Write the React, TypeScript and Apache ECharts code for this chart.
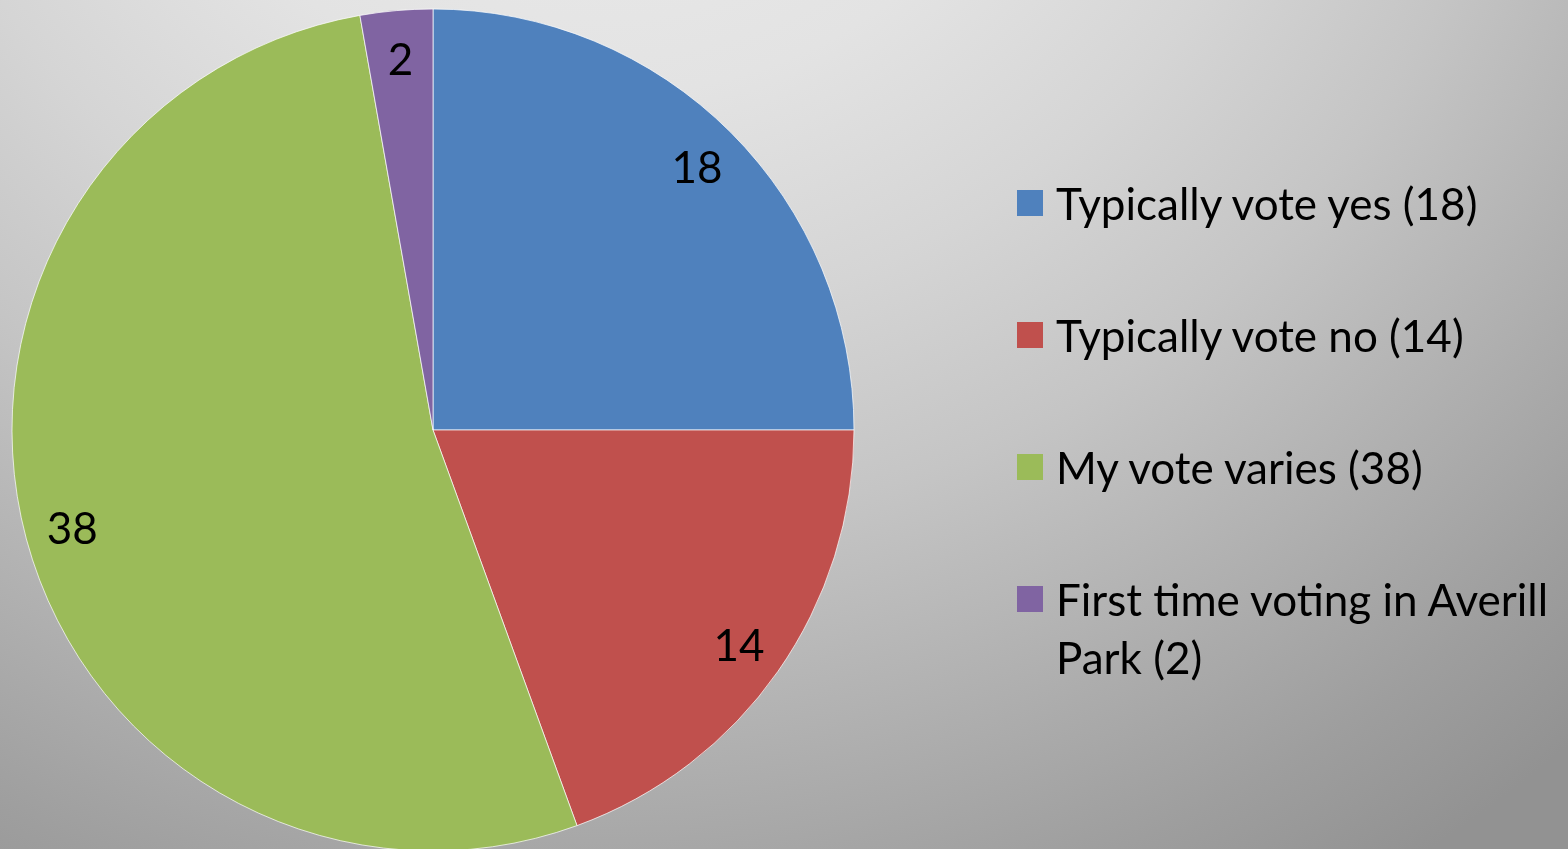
import React, { useEffect, useRef } from "react";
import * as echarts from "echarts";

const categories = [
  "Typically vote yes",
  "Typically vote no",
  "My vote varies",
  "First time voting in Averill Park",
];
const counts = [18, 14, 38, 2];
const colors = ["#4f81bd", "#c0504d", "#9bbb59", "#8064a2"];

const FONT = "Lato, 'Open Sans', sans-serif";
const FS = 44;

export default function App() {
  const ref = useRef<HTMLDivElement>(null);
  useEffect(() => {
    if (!ref.current) return;
    const chart = echarts.init(ref.current, null, { renderer: "svg" });
    const data = categories.map((name, i) => ({
      name,
      value: counts[i],
      itemStyle: { color: colors[i] },
    }));
    const legendText = (name: string) => {
      const i = categories.indexOf(name);
      if (name === "First time voting in Averill Park") {
        return " \nFirst time voting in Averill\nPark (" + counts[i] + ")";
      }
      return name + " (" + counts[i] + ")";
    };
    const legendBase = {
      orient: "vertical",
      left: 1017,
      padding: 0,
      icon: "rect",
      itemWidth: 26,
      itemHeight: 26,
      selectedMode: false,
      formatter: legendText,
      itemStyle: { borderWidth: 0 },
      textStyle: {
        fontFamily: FONT,
        fontSize: FS,
        color: "#000",
        lineHeight: 58,
        padding: [0, 0, 0, 8],
      },
    };
    chart.setOption({
      animation: false,
      graphic: [
        {
          type: "rect",
          silent: true,
          z: -100,
          shape: { x: 0, y: 0, width: 1568, height: 849 },
          style: {
            fill: new echarts.graphic.RadialGradient(
              600,
              -400,
              1500,
              [
                { offset: 0, color: "#f0f0f0" },
                { offset: 0.33, color: "#e3e3e3" },
                { offset: 0.48, color: "#d5d5d5" },
                { offset: 0.62, color: "#c5c5c5" },
                { offset: 0.82, color: "#a9a9a9" },
                { offset: 0.9, color: "#9e9e9e" },
                { offset: 1, color: "#929292" },
              ],
              true
            ),
          },
        },
      ],
      legend: [
        {
          ...legendBase,
          top: 174,
          itemGap: 74,
          data: categories.slice(0, 3),
        },
        {
          ...legendBase,
          top: 512,
          data: categories.slice(3),
        },
      ],
      series: [
        {
          type: "pie",
          center: [433, 430],
          radius: [0, 421],
          startAngle: 90,
          clockwise: true,
          silent: true,
          label: { show: false },
          labelLine: { show: false },
          emphasis: { disabled: true },
          itemStyle: { borderColor: "rgba(255,255,255,0.7)", borderWidth: 1 },
          data,
        },
        {
          type: "pie",
          center: [433, 430],
          radius: [320, 421],
          startAngle: 90,
          clockwise: true,
          silent: true,
          legendHoverLink: false,
          emphasis: { disabled: true },
          itemStyle: { color: "rgba(0,0,0,0)", borderWidth: 0 },
          labelLine: { show: false },
          label: {
            show: true,
            position: "inside",
            formatter: "{c}",
            fontFamily: FONT,
            fontSize: FS,
            color: "#000",
          },
          data: categories.map((name, i) => ({ name, value: counts[i] })),
        },
      ],
    });
    return () => chart.dispose();
  }, []);
  return (
    <div
      ref={ref}
      style={{ position: "fixed", left: 0, top: 0, width: 1568, height: 849 }}
    />
  );
}
